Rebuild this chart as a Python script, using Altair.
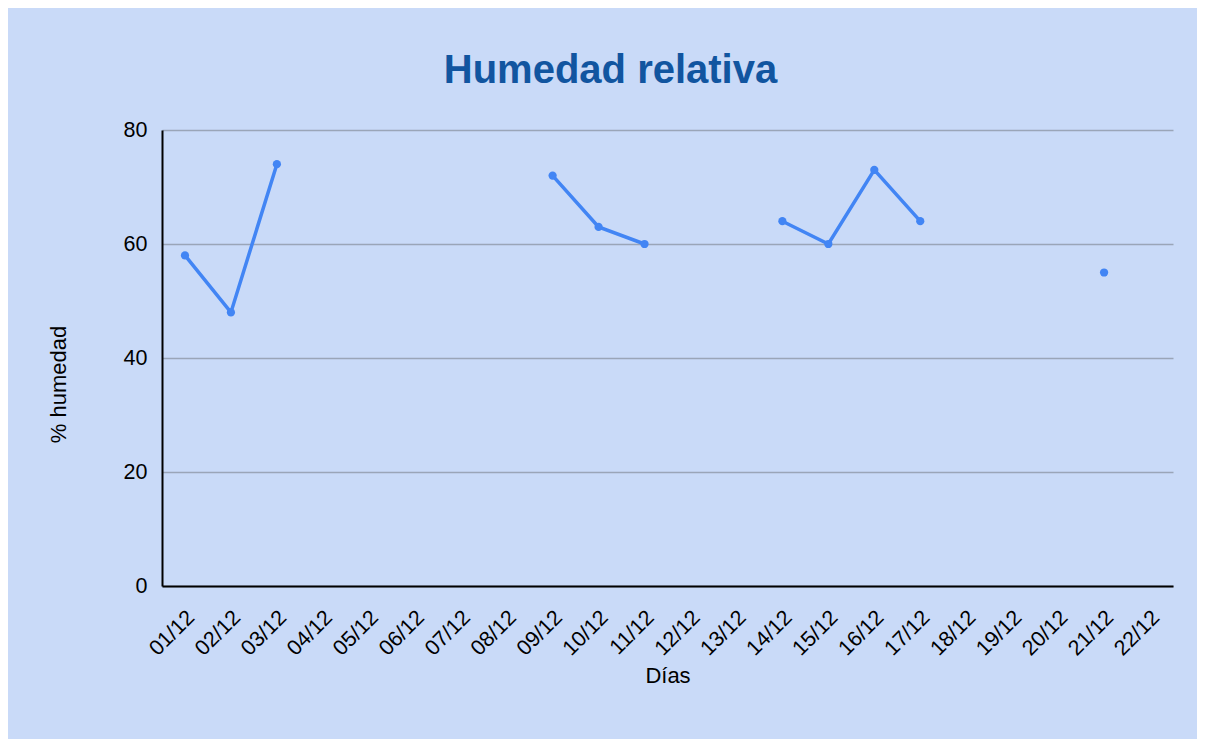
import altair as alt
import pandas as pd

days = ["01/12", "02/12", "03/12", "04/12", "05/12", "06/12", "07/12", "08/12",
        "09/12", "10/12", "11/12", "12/12", "13/12", "14/12", "15/12", "16/12",
        "17/12", "18/12", "19/12", "20/12", "21/12", "22/12"]
humidity = [58, 48, 74, None, None, None, None, None,
            72, 63, 60, None, None, 64, 60, 73,
            64, None, None, None, 55, None]

df = pd.DataFrame({"dia": days, "humedad": humidity})

FONT = "Liberation Sans"
BLUE = "#4285f4"

x = alt.X("dia:N", sort=days, scale=alt.Scale(domain=days, paddingInner=0, paddingOuter=0.5),
          title="Días",
          axis=alt.Axis(labelAngle=-45, labelAlign="right", labelBaseline="middle",
                        labelFontSize=21.5, labelPadding=28, labelOffset=6, ticks=False,
                        domainColor="#000000", domainWidth=2, titleFontSize=22,
                        titleFontWeight="normal", titleBaseline="alphabetic", titleY=96,
                        labelColor="#000000", titleColor="#000000", grid=False))
y = alt.Y("humedad:Q", scale=alt.Scale(domain=[0, 80]), title="% humedad",
          axis=alt.Axis(values=[0, 20, 40, 60, 80], labelFontSize=21.5, labelPadding=15,
                        ticks=False, domainColor="#000000", domainWidth=2,
                        titleFontSize=22, titleFontWeight="normal",
                        titleBaseline="alphabetic", titleX=-97, titleY=254,
                        labelColor="#000000", titleColor="#000000",
                        gridColor="#9aa5b8", gridWidth=1.5))

line = alt.Chart(df).mark_line(color=BLUE, strokeWidth=3.5,
                               invalid="break-paths-show-domains").encode(x=x, y=y)
pts = alt.Chart(df).mark_circle(color=BLUE, size=68, opacity=1).encode(x=x, y=y)

chart = (line + pts).properties(
    width=1011, height=456,
    title=alt.TitleParams("Humedad relativa", fontSize=40, fontWeight="bold",
                          color="#1155a0", font=FONT, anchor="middle", dx=-57,
                          baseline="alphabetic", offset=47, dy=51),
    background="#c9daf8",
    padding={"left": 154, "top": 122, "right": 24, "bottom": 153},
    autosize=alt.AutoSizeParams(type="none"),
).configure_view(stroke=None).configure_axis(labelFont=FONT, titleFont=FONT)

chart.save("out.html", embed_options={"renderer": "svg", "actions": False})
